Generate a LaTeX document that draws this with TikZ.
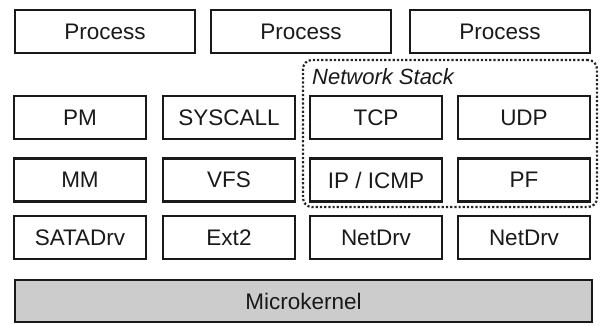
\documentclass[tikz,border=0pt]{standalone}
\usepackage{fontspec}
\setmainfont{Liberation Sans}
\begin{document}
\begin{tikzpicture}[x=1pt,y=-1pt,
  box/.style={draw=black!90, line width=2.5pt, inner sep=0pt, outer sep=0pt,
    minimum width=132pt, minimum height=43pt, font=\fontsize{22.5}{26}\selectfont, text=black!90},
  wide/.style={box, minimum width=180pt},
  kern/.style={box, fill=black!20, minimum width=577pt, minimum height=42pt},
  netbox/.style={draw=black!85, line width=2.2pt, dotted, rounded corners=9pt,
    minimum width=294pt, minimum height=147pt, inner sep=0pt, outer sep=0pt},
  lbl/.style={font=\fontsize{22}{25}\selectfont\itshape, text=black!90, inner sep=0pt, anchor=west}]
\useasboundingbox (0,0) rectangle (603,326);
\node[netbox] (ns) at (450,133.5) {};
\node[lbl] (nslabel) at (312,77) {Network Stack};
\node[wide] (p1) at (105,31.5) {Process};
\node[wide] (p2) at (301,31.5) {Process};
\node[wide] (p3) at (500,31.5) {Process};
\node[box] (pm) at (80,117.5) {PM};
\node[box] (sys) at (229,117.5) {SYSCALL};
\node[box] (tcp) at (376,117.5) {TCP};
\node[box] (udp) at (524,117.5) {UDP};
\node[box] (mm) at (80,180) {MM};
\node[box] (vfs) at (229,180) {VFS};
\node[box] (ip) at (376,180) {IP / ICMP};
\node[box] (pf) at (524,180) {PF};
\node[box] (sata) at (80,237.5) {SATADrv};
\node[box] (ext) at (229,237.5) {Ext2};
\node[box] (nd1) at (376,237.5) {NetDrv};
\node[box] (nd2) at (524,237.5) {NetDrv};
\node[kern] (mk) at (303.5,301) {Microkernel};
\end{tikzpicture}
\end{document}
